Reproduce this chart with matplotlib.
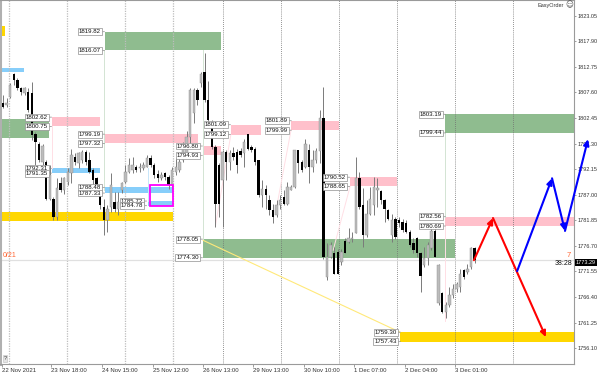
import matplotlib
matplotlib.use("Agg")
import matplotlib.pyplot as plt
from matplotlib.patches import Rectangle

plt.rcParams['font.family'] = ['Liberation Sans', 'DejaVu Sans']

# hourly candles
opens = [1805.4,1805.0,1806.7,1811.4,1810.1,1808.4,1807.4,1807.7,1807.4,1799.3,1797.3,1793.6,1793.6,1786.2,1786.2,1782.5,1789.3,1787.9,1789.6,1791.3,1794.6,1793.3,1793.9,1795.6,1794.0,1792.0,1790.3,1787.9,1784.5,1781.9,1784.5,1785.6,1784.2,
         1787.9,1789.6,1791.6,1792.0,1792.6,1792.3,1792.3,1792.6,1794.3,1793.0,1791.1,1790.3,1791.3,1790.6,1788.9,1791.6,1792.0,1794.0,1795.3,1798.7,1803.4,1808.1,1809.4,1811.8,1806.1,1801.7,1796.6,1793.0,1790.0,1795.6,1793.6,1795.3,1795.6,
         1795.7,1795.3,1799.3,1796.6,1796.3,1794.0,1786.9,1788.1,1785.9,1783.9,1782.9,1784.9,1786.6,1785.2,1788.0,1788.6,1795.9,1793.6,1792.6,1796.1,1792.6,1794.0,1795.7,1802.4,1770.5,1774.5,1775.2,1775.5,1773.5,1777.7,1777.5,1778.1,1779.2,1790.3,
         1784.9,1778.9,1783.2,1784.9,1788.0,1787.8,1786.0,1784.0,1778.9,1782.2,1782.0,1781.5,1781.2,1779.5,1777.2,1778.2,1775.2,1772.8,1774.2,1776.2,1779.7,1765.1,1767.1,1763.4,1764.7,1766.8,1768.1,1768.4,1771.8,1771.5,1772.5,1776.2]
highs = [1807.1,1806.4,1809.4,1811.6,1810.4,1808.7,1808.7,1808.4,1809.7,1799.7,1797.7,1797.3,1794.0,1793.0,1786.6,1790.3,1790.6,1790.6,1792.3,1796.3,1795.3,1795.6,1796.0,1796.0,1795.6,1792.3,1790.6,1788.3,1786.2,1784.9,1791.3,1787.6,1787.6,
         1789.6,1793.0,1794.3,1794.6,1793.0,1793.3,1793.6,1795.0,1795.0,1793.3,1792.0,1791.6,1791.6,1790.9,1792.6,1794.3,1794.6,1797.6,1799.9,1808.4,1808.4,1808.4,1811.8,1815.5,1809.8,1802.0,1797.0,1793.3,1796.0,1796.0,1796.0,1796.7,1796.3,
         1796.5,1798.3,1799.3,1797.0,1796.7,1794.0,1790.0,1788.9,1786.9,1785.2,1785.9,1787.0,1787.9,1789.6,1789.0,1796.0,1796.0,1794.0,1798.3,1797.3,1796.0,1796.5,1804.0,1808.7,1777.2,1777.5,1776.5,1776.0,1776.0,1778.2,1780.2,1779.5,1794.6,1791.6,
         1788.3,1785.9,1788.6,1790.6,1790.3,1788.0,1786.2,1784.2,1783.2,1782.5,1782.6,1782.2,1781.9,1779.9,1778.2,1778.5,1775.5,1776.5,1777.5,1780.5,1780.5,1773.1,1767.4,1765.4,1768.4,1769.1,1769.5,1772.1,1772.1,1773.1,1776.5,1776.5]
lows = [1804.4,1804.7,1806.4,1809.1,1808.1,1807.1,1807.0,1803.7,1798.0,1793.0,1793.6,1793.0,1785.9,1785.9,1781.9,1781.9,1787.6,1787.2,1788.9,1789.3,1793.0,1792.3,1793.3,1793.0,1791.3,1788.3,1787.2,1784.2,1778.8,1779.5,1783.5,1783.5,1782.9,
        1787.4,1789.3,1791.3,1791.3,1791.5,1791.6,1792.0,1792.6,1792.6,1790.3,1789.6,1789.9,1789.9,1788.2,1788.2,1791.0,1791.5,1793.6,1794.6,1797.3,1801.4,1805.0,1808.7,1805.7,1801.7,1796.3,1780.5,1782.5,1780.5,1789.9,1792.0,1794.0,1791.3,
        1794.5,1792.6,1796.0,1795.5,1793.0,1786.6,1784.6,1784.2,1782.9,1781.2,1782.5,1784.2,1784.9,1784.9,1787.9,1788.3,1791.3,1791.6,1792.3,1789.3,1791.6,1793.3,1793.3,1774.0,1769.8,1774.2,1771.1,1771.0,1772.9,1775.2,1777.2,1777.5,1779.2,1784.2,
        1776.5,1778.5,1782.9,1782.9,1784.6,1785.2,1781.5,1781.9,1777.5,1778.0,1780.5,1779.5,1779.2,1776.5,1775.2,1774.5,1767.4,1772.5,1772.8,1775.8,1774.4,1764.8,1763.1,1762.1,1764.4,1766.1,1767.4,1767.4,1770.1,1771.1,1772.1,1773.2]
closes = [1804.7,1805.4,1809.1,1810.1,1808.4,1807.7,1808.5,1804.0,1799.0,1797.7,1794.0,1796.9,1786.2,1790.9,1782.5,1788.3,1787.9,1790.3,1791.6,1795.0,1793.6,1795.3,1795.6,1793.6,1791.6,1789.9,1787.6,1784.9,1781.9,1784.2,1788.9,1784.2,1785.6,
          1789.3,1791.6,1793.0,1793.0,1792.0,1792.6,1793.0,1794.3,1793.0,1791.0,1790.3,1790.9,1790.6,1788.9,1792.0,1792.6,1793.6,1796.6,1798.7,1808.1,1808.1,1806.1,1811.4,1806.1,1802.0,1796.6,1785.2,1785.2,1795.6,1793.6,1795.3,1794.6,1793.0,
          1795.0,1797.7,1796.3,1796.0,1793.6,1786.9,1788.1,1786.9,1783.9,1782.5,1784.9,1785.9,1785.2,1788.6,1788.6,1795.9,1793.3,1792.0,1797.3,1792.6,1794.0,1795.7,1802.4,1774.5,1774.5,1776.9,1771.1,1771.1,1775.5,1775.2,1778.2,1778.2,1790.3,1784.6,
          1778.9,1783.2,1786.2,1788.6,1788.3,1786.0,1784.2,1782.2,1782.0,1778.5,1781.2,1779.9,1779.5,1776.8,1775.8,1775.2,1770.6,1774.2,1776.8,1779.7,1774.5,1772.8,1763.4,1764.7,1766.8,1768.1,1769.1,1771.1,1770.5,1772.1,1776.2,1773.8]

# supply / demand zones: top, bottom, first bar, last bar, colour
green, pink, blue, gold = '#8fbc8f', '#ffc0cb', '#87cefa', '#ffd700'
zone_top = [1819.82,1802.2,1802.62,1799.19,1812.5,1792.31,1788.48,1785.72,1783.5,1821.0,1796.80,1801.09,1801.89,1790.52,1778.05,1782.56,1803.19,1759.30]
zone_bottom = [1816.07,1798.4,1800.75,1797.32,1811.7,1791.35,1787.33,1784.78,1781.7,1819.0,1794.93,1799.12,1799.99,1788.65,1774.30,1780.69,1799.44,1757.43]
zone_start = [28.3,-0.8,13.6,28.3,-0.5,13.6,28.3,40.3,-0.5,-0.5,55.6,63.3,80.0,96.4,55.6,122.8,122.8,110.3]
zone_end = [60.6,12.8,26.9,54.2,5.8,26.9,47.2,47.2,47.2,0.5,60.6,71.7,93.3,109.4,125.6,158.6,158.6,158.6]
zone_color = [green,green,pink,pink,blue,blue,blue,blue,gold,gold,pink,pink,pink,pink,green,pink,green,gold]

# price tags sitting left of the zones
tag_price = [1819.82,1816.07,1802.62,1800.75,1799.19,1797.32,1792.31,1791.35,1788.48,1787.33,1785.72,1784.78,
             1796.80,1794.93,1778.05,1774.30,1801.09,1799.12,1801.89,1799.99,1790.52,1788.65,1782.56,1780.69,1803.19,1799.44,1759.30,1757.43]
tag_bar = [27.5,27.5,12.8,12.8,27.5,27.5,12.8,12.8,27.5,27.5,39.2,39.2,
           54.7,54.7,54.7,54.7,62.5,62.5,79.4,79.4,95.6,95.6,122.2,122.2,122.2,122.2,109.7,109.7]

price_ticks = [1823.05,1817.90,1812.75,1807.60,1802.45,1797.30,1792.15,1787.00,1781.85,1776.70,1771.55,1766.40,1761.25,1756.10]
date_bars = [-0.3,13.3,27.5,41.7,55.6,69.4,83.6,97.6,111.7,125.6]
date_labels = ['22 Nov 2021','23 Nov 18:00','24 Nov 15:00','25 Nov 12:00','26 Nov 13:00','29 Nov 13:00','30 Nov 10:00','1 Dec 07:00','2 Dec 04:00','3 Dec 01:00']
grid_bars = [1.7,17.8,33.9,47.2,61.1,77.2,93.3,109.4,125.6,141.7]

# forecast paths
red_bars = [130.8,136.1,150.8]
red_prices = [1773.8,1782.3,1758.3]
blue_bars = [142.8,152.5,156.1,162.5]
blue_prices = [1771.6,1790.3,1779.7,1798.2]

last_price = 1773.29

fig = plt.figure(figsize=(6.0,3.73), dpi=100)
ax = fig.add_axes([0,9.5/373,574/600,363.5/373])
ax.set_xlim(-0.83,158.6)
ax.set_ylim(1753.0,1826.21)

for t,b,s,e,c in zip(zone_top,zone_bottom,zone_start,zone_end,zone_color):
    ax.add_patch(Rectangle((s,b),e-s,t-b,facecolor=c,edgecolor='none',zorder=1))
ax.add_patch(Rectangle((40.8,1784.7),6.4,4.2,facecolor='none',edgecolor='#ff00ff',lw=1.3,zorder=4))

for k,g in enumerate(grid_bars):
    if k<4:
        ax.axvline(g,color='#bdbdbd',lw=0.9,ls=(0,(1,1)),zorder=2)
    else:
        ax.axvline(g,color='#707070',lw=0.6,ls=(0,(1,1.5)),zorder=2)
ax.axhline(last_price+0.5,color='#e0e0e0',lw=0.9,zorder=2)

# pale helper lines from the zones
ax.plot([28.1,28.1],[1816.07,1788.0],color='#d3e4d3',lw=0.7,zorder=2)
ax.plot([13.6,13.6],[1800.75,1792.3],color='#ffdfe5',lw=0.7,zorder=2)
ax.plot([55.6,55.6],[1816.07,1778.0],color='#d3e4d3',lw=0.7,zorder=2)
ax.plot([122.8,122.8],[1799.44,1782.6],color='#d3e4d3',lw=0.7,zorder=2)
ax.plot([122.8,122.8],[1780.7,1761.5],color='#ffdfe5',lw=0.7,zorder=2)
ax.plot([40.3,40.3],[1792.3,1785.7],color='#c7e6fa',lw=0.7,zorder=2)
ax.plot([63.3,59.0],[1799.12,1780.7],color='#ffdfe5',lw=0.7,zorder=2)
ax.plot([80.0,76.0],[1799.99,1784.5],color='#ffdfe5',lw=0.7,zorder=2)
ax.plot([96.4,91.7],[1788.65,1775.8],color='#ffdfe5',lw=0.7,zorder=2)
ax.plot([55.6,110.3],[1777.8,1759.3],color='#ffe97a',lw=0.8,zorder=2)

# candles
for i,(o,h,l,c) in enumerate(zip(opens,highs,lows,closes)):
    ax.plot([i,i],[l,h],color='#7a7a7a',lw=0.7,zorder=3,solid_capstyle='butt')
    if c<o:
        ax.bar(i,o-c,bottom=c,width=0.7,color='#000000',linewidth=0,zorder=3)
    else:
        ax.bar(i,max(c-o,0.2),bottom=o,width=0.7,color='#bcbcbc',edgecolor='#8f8f8f',linewidth=0.3,zorder=3)

for p,x in zip(tag_price,tag_bar):
    ax.annotate('',xy=(x+0.7,p),xytext=(x,p),arrowprops=dict(arrowstyle='-',color='#888888',lw=0.5),zorder=5)
    ax.text(x-0.3,p,'%.2f'%p,ha='right',va='center',fontsize=4.4,color='#111111',zorder=6,
            bbox=dict(boxstyle='square,pad=0.15',fc='#ffffff',ec='#909090',lw=0.5))

for k in range(len(red_bars)-1):
    ax.annotate('',xy=(red_bars[k+1],red_prices[k+1]),xytext=(red_bars[k],red_prices[k]),zorder=7,
                arrowprops=dict(arrowstyle='-|>,head_length=0.35,head_width=0.16',color='#ff0000',lw=1.5,shrinkA=0,shrinkB=0))
for k in range(len(blue_bars)-1):
    ax.annotate('',xy=(blue_bars[k+1],blue_prices[k+1]),xytext=(blue_bars[k],blue_prices[k]),zorder=8,annotation_clip=False,
                arrowprops=dict(arrowstyle='-|>,head_length=0.35,head_width=0.16',color='#0000ff',lw=1.5,shrinkA=0,shrinkB=0))

ax.yaxis.tick_right()
ax.set_yticks(price_ticks)
ax.set_yticklabels(['%.2f'%v for v in price_ticks])
ax.set_xticks(date_bars)
ax.set_xticklabels(date_labels,ha='left')
ax.tick_params(axis='y',length=1.5,width=0.5,pad=1,labelsize=4.0,color='#777777',labelcolor='#333333')
ax.tick_params(axis='x',length=2,width=0.5,pad=1,labelsize=4.3,color='#777777',labelcolor='#333333')
for s in ['top','bottom','right']:
    ax.spines[s].set_color('#9a9a9a')
    ax.spines[s].set_linewidth(0.8)
ax.spines['left'].set_color('#b0b0b0')
ax.spines['left'].set_linewidth(2.2)

# terminal overlays
ax.text(0.005,0.298,'0/21',transform=ax.transAxes,fontsize=5,color='#ff6633',va='center')
ax.text(0.994,0.298,'7',transform=ax.transAxes,fontsize=5.5,color='#ff6633',ha='right',va='center')
ax.text(0.997,0.274,'38:28',transform=ax.transAxes,fontsize=5,color='#111111',ha='right',va='center')
ax.text(1.0035,last_price,'%.2f'%last_price,transform=ax.get_yaxis_transform(),fontsize=4.0,color='#ffffff',ha='left',va='center',
        bbox=dict(boxstyle='square,pad=0.15',fc='#000000',ec='none'),zorder=9)
ax.text(0.982,0.986,'EasyOrder',transform=ax.transAxes,fontsize=4.0,color='#333333',ha='right',va='center')
ax.text(0.9915,0.986,'\u263a',transform=ax.transAxes,fontsize=5.5,color='#444444',ha='center',va='center',family='DejaVu Sans')
ax.text(0.009,0.013,'?',transform=ax.transAxes,fontsize=4,color='#333333',ha='center',va='center',
        bbox=dict(boxstyle='square,pad=0.15',fc='#e4e4e4',ec='#bbbbbb',lw=0.4))

plt.savefig("out.png",dpi=100)
